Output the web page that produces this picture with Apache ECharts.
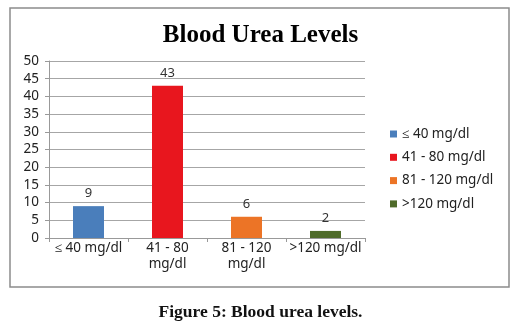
<!DOCTYPE html>
<html>
<head>
<meta charset="utf-8">
<script src="https://cdn.jsdelivr.net/npm/echarts@6/dist/echarts.min.js"></script>
<style>
  html, body { margin: 0; padding: 0; background: #fff; }
  #chart { width: 521px; height: 331px; }
</style>
</head>
<body>
<div id="chart"></div>
<script>
// 数据
var categories = ['≤ 40 mg/dl', '41 - 80\nmg/dl', '81 - 120\nmg/dl', '>120 mg/dl']
var legendNames = ['≤ 40 mg/dl', '41 - 80 mg/dl', '81 - 120 mg/dl', '>120 mg/dl']
var values = [9, 43, 6, 2]
var barColors = ['#4a7ebb', '#e8161e', '#ec7426', '#4f6b2a']
var yTicks = { min: 0, max: 50, interval: 5 }

var myChart = echarts.init(document.getElementById('chart'))

// 每个类别一个系列，这样图例能显示四项
var series = legendNames.map(function (name, i) {
  var d = values.map(function (v, j) { return j === i ? v : '-' })
  return {
    name: name,
    type: 'bar',
    stack: 'all',
    barWidth: 31,
    itemStyle: { color: barColors[i] },
    label: {
      show: true,
      position: 'top',
      distance: 6,
      color: '#333',
      fontSize: 13,
      fontFamily: 'Noto Sans'
    },
    data: d
  }
})

var option = {
  animation: false,
  backgroundColor: '#fff',
  title: {
    text: 'Blood Urea Levels',
    left: 'center',
    top: 18,
    textStyle: {
      fontFamily: 'Liberation Serif',
      fontWeight: 'bold',
      fontSize: 25,
      color: '#000'
    }
  },
  graphic: [
    {
      type: 'rect',
      shape: { x: 10, y: 8, width: 499, height: 279 },
      style: { fill: 'none', stroke: '#8c8c8c', lineWidth: 1.5 },
      z: -1
    },
    {
      type: 'text',
      left: 'center',
      top: 303,
      style: {
        text: 'Figure 5: Blood urea levels.',
        font: 'bold 17.5px "Liberation Serif"',
        fill: '#111'
      }
    }
  ],
  legend: {
    orient: 'vertical',
    left: 385,
    top: 122,
    itemWidth: 7,
    itemHeight: 7,
    itemGap: 9.3,
    icon: 'rect',
    textStyle: { fontFamily: 'Noto Sans', fontSize: 13.5, color: '#222' },
    data: legendNames
  },
  grid: { left: 49, top: 61, width: 316, height: 177 },
  xAxis: {
    type: 'category',
    data: categories,
    axisLine: { lineStyle: { color: '#999' } },
    axisTick: { show: true, length: 4, lineStyle: { color: '#999' } },
    axisLabel: {
      color: '#222',
      fontSize: 13.5,
      fontFamily: 'Noto Sans',
      margin: 2,
      lineHeight: 16,
      interval: 0
    }
  },
  yAxis: {
    type: 'value',
    min: yTicks.min,
    max: yTicks.max,
    interval: yTicks.interval,
    axisLine: { show: true, lineStyle: { color: '#999' } },
    axisTick: { show: true, length: 4, lineStyle: { color: '#999' } },
    axisLabel: { color: '#222', fontSize: 13.5, fontFamily: 'Noto Sans', margin: 10 },
    splitLine: { lineStyle: { color: '#a6a6a6' } }
  },
  series: series
}

myChart.setOption(option, true)
</script>
</body>
</html>
